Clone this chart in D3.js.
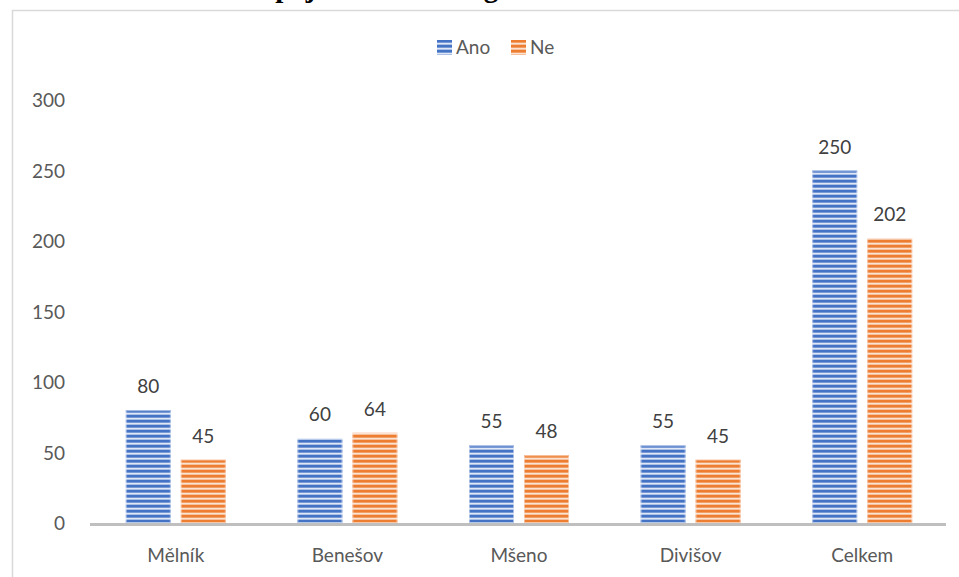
<!DOCTYPE html>
<html>
<head>
<meta charset="utf-8">
<script src="https://cdn.jsdelivr.net/npm/d3@7"></script>
<style>
  html, body { margin: 0; padding: 0; background: #fff; }
  svg { display: block; }
</style>
</head>
<body>
<svg id="chart" width="959" height="577"></svg>
<script>
// Odpovědi podle obce
const categories = ["Mělník", "Benešov", "Mšeno", "Divišov", "Celkem"];
const seriesNames = ["Ano", "Ne"];
const anoValues = [80, 60, 55, 55, 250];
const neValues = [45, 64, 48, 45, 202];
const yTicks = [0, 50, 100, 150, 200, 250, 300];
const titleText = "Graf č. 8: Názor na spojení obce a blog";

const colors = { Ano: "#4472C4", Ne: "#ED7D31" };
const lights = { Ano: "#dfe7f6", Ne: "#fbe3d3" };

const svg = d3.select("#chart");
const font = "Lato, 'Open Sans', sans-serif";

// Horizontal stripe fills
const defs = svg.append("defs");
seriesNames.forEach(s => {
  const g = defs.append("linearGradient")
    .attr("id", "grad-" + s).attr("x1", 0).attr("y1", 0).attr("x2", 0).attr("y2", 1);
  g.append("stop").attr("offset", "0%").attr("stop-color", colors[s]);
  g.append("stop").attr("offset", "40%").attr("stop-color", colors[s]);
  g.append("stop").attr("offset", "70%").attr("stop-color", lights[s]);
  g.append("stop").attr("offset", "100%").attr("stop-color", d3.interpolateRgb(colors[s], lights[s])(0.5));
  const p = defs.append("pattern")
    .attr("id", "stripe-" + s)
    .attr("patternUnits", "userSpaceOnUse")
    .attr("width", 10).attr("height", 5);
  p.append("rect").attr("width", 10).attr("height", 5).attr("fill", "url(#grad-" + s + ")");
});

// Title (runs off the top of the page)
svg.append("text")
  .attr("x", 18).attr("y", -3)
  .attr("font-family", "'Liberation Serif', 'Times New Roman', serif")
  .attr("font-weight", "bold")
  .attr("font-size", 29)
  .attr("fill", "#000")
  .text(titleText);

// Chart frame
svg.append("path")
  .attr("d", "M12.5,577 L12.5,10.5 L959,10.5")
  .attr("fill", "none")
  .attr("stroke", "#d9d9d9")
  .attr("stroke-width", 1.5);

const plot = { left: 90, right: 948, top: 100, bottom: 523 };

const x0 = d3.scaleBand().domain(categories).range([plot.left, plot.right]).padding(0);
const groupW = 100;
const x1 = d3.scaleBand().domain(seriesNames).range([0, groupW]).paddingInner(10 / 55).paddingOuter(0);
const y = d3.scaleLinear().domain([0, 300]).range([plot.bottom, plot.top]);

// Y axis labels
const yAxis = d3.axisLeft(y).tickValues(yTicks).tickSize(0).tickPadding(0);
const yg = svg.append("g").attr("transform", "translate(65,0)").call(yAxis);
yg.select(".domain").remove();
yg.selectAll("text")
  .attr("font-family", font).attr("font-size", 19)
  .attr("fill", "#595959").attr("dy", "0.35em");

const data = categories.map((c, i) => ({ cat: c, Ano: anoValues[i], Ne: neValues[i] }));

const groups = svg.append("g").selectAll("g")
  .data(data).join("g")
  .attr("transform", d => `translate(${x0(d.cat) + (x0.bandwidth() - groupW) / 2},0)`);

const bars = groups.selectAll("g.bar")
  .data(d => seriesNames.map(s => ({ s, v: d[s] })))
  .join("g").attr("class", "bar");

bars.append("rect")
  .attr("x", d => x1(d.s))
  .attr("width", x1.bandwidth())
  .attr("y", d => y(d.v))
  .attr("height", d => y(0) - y(d.v))
  .attr("fill", d => "url(#stripe-" + d.s + ")");

// Light edge highlight on bars
bars.append("rect")
  .attr("x", d => x1(d.s) + 0.5)
  .attr("width", x1.bandwidth() - 1)
  .attr("y", d => y(d.v) + 0.5)
  .attr("height", d => y(0) - y(d.v) - 1)
  .attr("fill", "none")
  .attr("stroke", d => lights[d.s])
  .attr("stroke-opacity", 0.6)
  .attr("stroke-width", 1);

bars.append("text")
  .attr("x", d => x1(d.s) + x1.bandwidth() / 2)
  .attr("y", d => y(d.v) - 17)
  .attr("text-anchor", "middle")
  .attr("font-family", font).attr("font-size", 19)
  .attr("fill", "#404040")
  .text(d => d.v);

// X axis line
svg.append("line")
  .attr("x1", plot.left).attr("x2", 946)
  .attr("y1", plot.bottom + 1.5).attr("y2", plot.bottom + 1.5)
  .attr("stroke", "#bfbfbf").attr("stroke-width", 3);

// Category labels
const xAxis = d3.axisBottom(x0).tickSize(0).tickPadding(0);
const xg = svg.append("g").attr("transform", `translate(0,${plot.bottom})`).call(xAxis);
xg.select(".domain").remove();
xg.selectAll("text")
  .attr("font-family", font).attr("font-size", 19)
  .attr("fill", "#595959")
  .attr("y", 39).attr("dy", 0);

// Legend
const legendItems = [
  { s: "Ano", x: 437 },
  { s: "Ne", x: 511 }
];
const lg = svg.append("g");
legendItems.forEach(it => {
  lg.append("rect")
    .attr("x", it.x).attr("y", 40).attr("width", 15).attr("height", 15)
    .attr("fill", "url(#stripe-" + it.s + ")");
  lg.append("text")
    .attr("x", it.x + 19).attr("y", 54)
    .attr("font-family", font).attr("font-size", 19)
    .attr("fill", "#595959")
    .text(it.s);
});
</script>
</body>
</html>
